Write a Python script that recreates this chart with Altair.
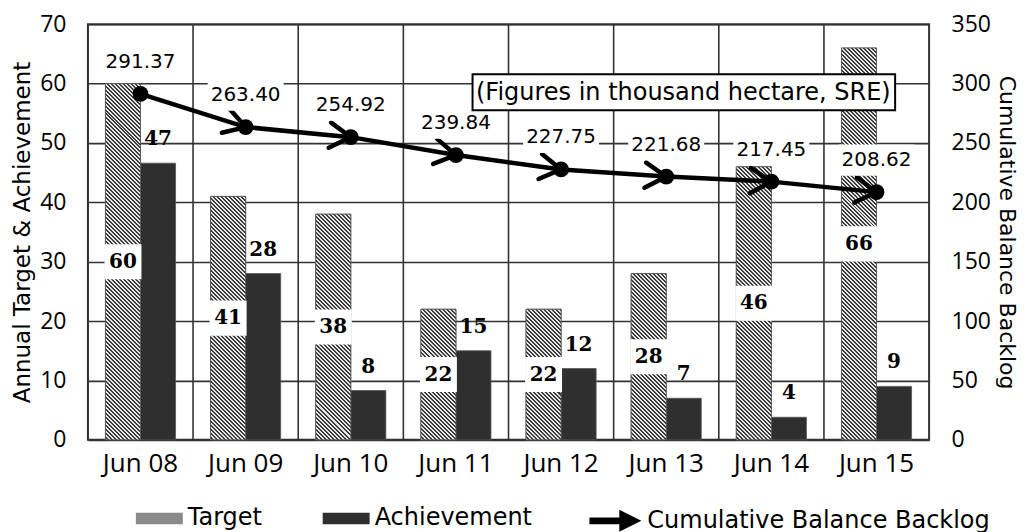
import math
import altair as alt
import pandas as pd

# ---------------- data ----------------
years = ["Jun 08", "Jun 09", "Jun 10", "Jun 11", "Jun 12", "Jun 13", "Jun 14", "Jun 15"]
target = [60, 41, 38, 22, 22, 28, 46, 66]
achievement = [46.6, 28, 8.3, 15, 12, 7, 3.8, 9]
backlog = [291.37, 263.40, 254.92, 239.84, 227.75, 221.68, 217.45, 208.62]
series_names = ["Target", "Achievement"]
line_name = "Cumulative Balance Backlog"
note = "(Figures in thousand hectare, SRE)"

W, H = 842, 416
LEFT_MAX, RIGHT_MAX = 70, 350

bars = pd.DataFrame({
    "year": years * 2,
    "series": ["Target"] * len(years) + ["Achievement"] * len(years),
    "value": target + achievement,
})
bars["mid"] = bars["value"] / 2

line_df = pd.DataFrame({"year": years, "backlog": backlog, "series": line_name})
step = W / len(years)
angles = [0.0] + [
    math.degrees(math.atan2((backlog[i - 1] - backlog[i]) * H / RIGHT_MAX, step))
    for i in range(1, len(backlog))
]
line_df["angle"] = angles
arrow_df = line_df.iloc[1:].copy()

SANS = "Open Sans"
LBL = "DejaVu Sans"
SERIF = "DejaVu Serif"
GRID = "#333333"


def hatch(h_px, w_px, period=4.0, dark="#3c3c3c", light="#e6e6e6"):
    """Diagonal hatch fill as a bounding-box linear gradient."""
    s = (w_px + h_px) / (w_px ** 2 + h_px ** 2)
    n = max(1, int(round((w_px + h_px) / period)))
    stops = []
    for i in range(n):
        a = i / n
        b = (i + 0.5) / n
        c = (i + 1) / n
        stops += [
            {"offset": a, "color": light},
            {"offset": b, "color": light},
            {"offset": b, "color": dark},
            {"offset": c, "color": dark},
        ]
    return {"gradient": "linear", "x1": 0, "y1": 1, "x2": s * w_px, "y2": 1 - s * h_px,
            "stops": stops}


x_enc = alt.X(
    "year:N", sort=years, title=None,
    scale=alt.Scale(paddingInner=0, paddingOuter=0),
    axis=alt.Axis(labelAngle=0, labelFont=SANS, labelFontSize=26, labelColor="black",
                  ticks=False, domain=False, labelPadding=11, grid=False),
)
xoff = alt.XOffset("series:N", sort=series_names,
                   scale=alt.Scale(domain=series_names, paddingInner=0, paddingOuter=0.5))

y_left_scale = alt.Scale(domain=[0, LEFT_MAX], nice=False)
y_left_axis = alt.Axis(
    values=list(range(0, LEFT_MAX + 1, 10)), grid=True, gridColor=GRID, gridWidth=1.6,
    ticks=False, domain=False, labelFont=SANS, labelFontSize=23, labelColor="black",
    labelPadding=22, title="Annual Target & Achievement", titleFont=LBL, titleFontSize=23,
    titleFontWeight="normal", titleColor="black", titlePadding=5,
)
y_right_scale = alt.Scale(domain=[0, RIGHT_MAX], nice=False)
y_right_axis = alt.Axis(
    orient="right", values=list(range(0, RIGHT_MAX + 1, 50)), grid=False, ticks=False,
    domain=False, labelFont=SANS, labelFontSize=23, labelColor="black", labelPadding=22,
    title=line_name, titleFont=LBL, titleFontSize=22, titleFontWeight="normal",
    titleColor="black", titlePadding=4,
)

# vertical grid lines at category boundaries
vrules = alt.Chart(line_df).mark_rule(color=GRID, strokeWidth=1.6).encode(
    x=alt.X("year:N", sort=years, bandPosition=0, title=None,
            scale=alt.Scale(paddingInner=0, paddingOuter=0)),
    y=alt.value(0), y2=alt.value(H),
)

bar_layer = alt.Chart(bars).mark_bar(stroke="#555555", strokeWidth=0.8).encode(
    x=x_enc, xOffset=xoff,
    y=alt.Y("value:Q", scale=y_left_scale, axis=y_left_axis),
    color=alt.Color(
        "series:N",
        scale=alt.Scale(domain=series_names, range=["#8a8a8a", "#2f2f2f"]),
        legend=alt.Legend(
            orient="none", legendX=48, legendY=471, direction="horizontal", title=None,
            symbolType="M-1,-0.24L1,-0.24L1,0.24L-1,0.24Z", symbolSize=2209,
            symbolStrokeWidth=0, labelFont=LBL, labelFontSize=24, labelColor="black",
            columnPadding=60, labelOffset=5, labelLimit=500,
        ),
    ),
)

tgt = bars[bars["series"] == "Target"]
bar_w = step / 3
hatched = [
    alt.Chart(tgt[tgt["year"] == yr]).mark_bar(
        color=hatch(val * H / LEFT_MAX, bar_w), stroke="#555555", strokeWidth=0.8
    ).encode(x=x_enc, xOffset=xoff, y=alt.Y("value:Q", scale=y_left_scale))
    for yr, val in zip(years, target)
]

tgt_boxes = alt.Chart(tgt).mark_point(
    shape="M-1,-0.95L1,-0.95L1,0.95L-1,0.95Z", size=1369, filled=True, fill="white",
    opacity=1, strokeWidth=0,
).encode(x=x_enc, xOffset=xoff, y=alt.Y("mid:Q", scale=y_left_scale))
tgt_text = alt.Chart(tgt).mark_text(
    font=SERIF, fontSize=20, fontWeight="bold", color="black", baseline="middle"
).encode(x=x_enc, xOffset=xoff, y=alt.Y("mid:Q", scale=y_left_scale),
         text=alt.Text("value:Q", format=".0f"))

ach = bars[bars["series"] == "Achievement"]
ach_text = alt.Chart(ach).mark_text(
    font=SERIF, fontSize=20, fontWeight="bold", color="black", baseline="middle", dy=-24
).encode(x=x_enc, xOffset=xoff, y=alt.Y("value:Q", scale=y_left_scale),
         text=alt.Text("value:Q", format=".0f"))

left = alt.layer(bar_layer, *hatched, vrules, tgt_boxes, tgt_text, ach_text)

line = alt.Chart(line_df).mark_line(strokeWidth=4.5).encode(
    x=x_enc,
    y=alt.Y("backlog:Q", scale=y_right_scale, axis=y_right_axis),
    stroke=alt.Stroke(
        "series:N", scale=alt.Scale(domain=[line_name], range=["black"]),
        legend=alt.Legend(
            orient="none", legendX=502, legendY=471, title=None,
            symbolType="M-1,-0.13L0.15,-0.13L0.15,-0.42L1,0L0.15,0.42L0.15,0.13L-1,0.13Z",
            symbolSize=2704, symbolFillColor="black", symbolStrokeColor="black",
            symbolStrokeWidth=0, labelFont=LBL, labelFontSize=24, labelColor="black",
            labelOffset=6, labelLimit=500,
        ),
    ),
)
arrows = alt.Chart(arrow_df).mark_point(
    shape="M-1,-0.6L0,0L-1,0.6", size=1764, filled=False, color="black",
    strokeWidth=4.5, opacity=1, strokeCap="round", strokeJoin="miter",
).encode(x=x_enc, y=alt.Y("backlog:Q", scale=y_right_scale),
         angle=alt.Angle("angle:Q", scale=None))
pts = alt.Chart(line_df).mark_point(
    shape="circle", size=250, filled=True, color="black", opacity=1
).encode(x=x_enc, y=alt.Y("backlog:Q", scale=y_right_scale))
line_boxes = alt.Chart(line_df).mark_point(
    shape="M-1,-0.41L1,-0.41L1,0.41L-1,0.41Z", size=5776, filled=True, fill="white",
    opacity=1, strokeWidth=0, yOffset=-32,
).encode(x=x_enc, y=alt.Y("backlog:Q", scale=y_right_scale))
line_text = alt.Chart(line_df).mark_text(
    font=LBL, fontSize=20, color="black", baseline="middle", dy=-32
).encode(x=x_enc, y=alt.Y("backlog:Q", scale=y_right_scale),
         text=alt.Text("backlog:Q", format=".2f"))

note_df = alt.Data(values=[{"t": note}])
note_box = alt.Chart(note_df).mark_rect(fill="white", stroke="black", strokeWidth=2).encode(
    x=alt.value(385), x2=alt.value(808), y=alt.value(50), y2=alt.value(86)
)
note_text = alt.Chart(note_df).mark_text(
    font=LBL, fontSize=24, color="black", baseline="middle", align="center"
).encode(x=alt.value(596), y=alt.value(69), text="t:N")

right = alt.layer(line, arrows, pts, line_boxes, line_text, note_box, note_text)

chart = (
    alt.layer(left, right)
    .resolve_scale(y="independent", color="independent")
    .properties(width=W, height=H, padding={"left": 3, "top": 5, "right": 5, "bottom": 0},
                background="white")
    .configure_view(stroke=GRID, strokeWidth=2)
)

chart.save("out.html", embed_options={"renderer": "svg", "actions": False})
